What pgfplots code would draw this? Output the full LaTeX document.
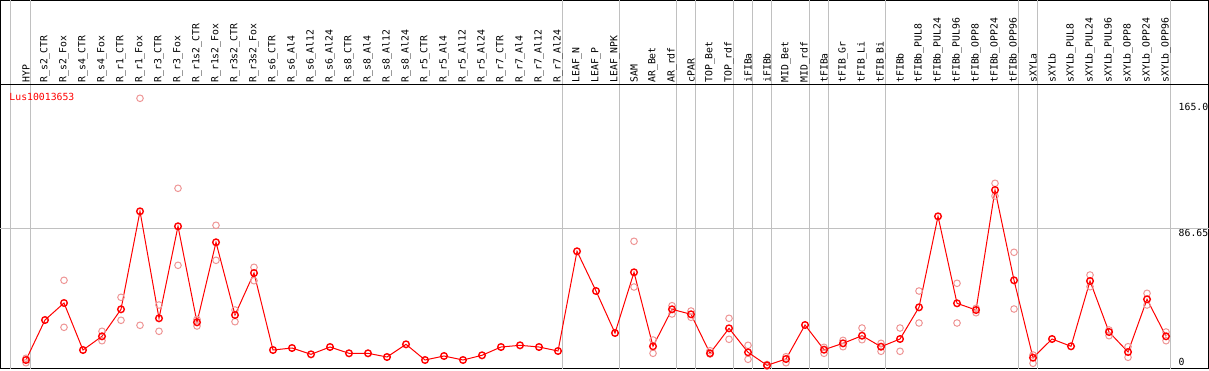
\documentclass[border=0pt]{standalone}
\usepackage{fontspec}
\setmainfont{DejaVu Sans Mono}
\usepackage{pgfplots}
\pgfplotsset{compat=1.18}
\definecolor{gridgray}{RGB}{192,192,192}
\definecolor{reppink}{RGB}{238,150,150}
\begin{document}
\fontsize{9.8pt}{10pt}\selectfont
\begin{tikzpicture}
% header box
\begin{axis}[
  at={(0.5pt,285pt)}, anchor=south west, scale only axis,
  width=1208pt, height=84.5pt,
  xmin=-0.342, xmax=63.237, ymin=0, ymax=1,
  xtick=\empty, ytick=\empty,
  extra x ticks={0.2,1.24,29.24,32.24,35.24,36.24,38.24,39.24,40.24,42.24,43.24,46.24,53.24,54.24,61.24},
  extra x tick labels={},
  extra x tick style={xmajorgrids=true, major tick length=0pt},
  major grid style={draw=gridgray, line width=1pt},
  axis line style={line width=1pt, black},
]
\addplot[draw=none] coordinates {(0,0.5)};
\end{axis}
% main axis
\begin{axis}[
  at={(0.5pt,1.3pt)}, anchor=south west, scale only axis,
  width=1208pt, height=283.7pt,
  xmin=-0.342, xmax=63.237, ymin=-0.62, ymax=175.81,
  axis line style={line width=1pt, black},
  major tick length=0pt,
  xtick={1,...,61},
  xticklabel pos=upper,
  xticklabels={HYP,R\_s2\_CTR,R\_s2\_Fox,R\_s4\_CTR,R\_s4\_Fox,R\_r1\_CTR,R\_r1\_Fox,R\_r3\_CTR,R\_r3\_Fox,R\_r1s2\_CTR,R\_r1s2\_Fox,R\_r3s2\_CTR,R\_r3s2\_Fox,R\_s6\_CTR,R\_s6\_Al4,R\_s6\_Al12,R\_s6\_Al24,R\_s8\_CTR,R\_s8\_Al4,R\_s8\_Al12,R\_s8\_Al24,R\_r5\_CTR,R\_r5\_Al4,R\_r5\_Al12,R\_r5\_Al24,R\_r7\_CTR,R\_r7\_Al4,R\_r7\_Al12,R\_r7\_Al24,LEAF\_N,LEAF\_P,LEAF\_NPK,SAM,AR\_Bet,AR\_rdf,cPAR,TOP\_Bet,TOP\_rdf,iFIBa,iFIBb,MID\_Bet,MID\_rdf,tFIBa,tFIB\_Gr,tFIB\_Li,tFIB\_Bi,tFIBb,tFIBb\_PUL8,tFIBb\_PUL24,tFIBb\_PUL96,tFIBb\_OPP8,tFIBb\_OPP24,tFIBb\_OPP96,sXYLa,sXYLb,sXYLb\_PUL8,sXYLb\_PUL24,sXYLb\_PUL96,sXYLb\_OPP8,sXYLb\_OPP24,sXYLb\_OPP96},
  xticklabel style={rotate=90, anchor=west, inner sep=2.2pt, font=\fontsize{9.8pt}{10pt}\selectfont},
  extra x ticks={0.2,1.24,29.24,32.24,35.24,36.24,38.24,39.24,40.24,42.24,43.24,46.24,53.24,54.24,61.24},
  extra x tick labels={},
  extra x tick style={xmajorgrids=true},
  ytick={6.47,86.65,165},
  yticklabels={0,86.65,165.0},
  yticklabel pos=right,
  yticklabel style={anchor=west, xshift=-30pt, yshift=-4.4pt, inner sep=0pt, fill=white, font=\fontsize{9.8pt}{10pt}\selectfont},
  /pgf/number format/assume math mode=true,
  extra y ticks={86.65},
  extra y tick labels={},
  extra y tick style={ymajorgrids=true},
  major grid style={draw=gridgray, line width=1pt},
  clip=false,
]
% replicate points
\addplot[only marks, mark=o, mark size=3.3pt, reppink, mark options={line width=1pt}] coordinates {
(1,3.11) (1,5.85)
(3,54.35) (3,25.12)
(5,22.64) (5,16.79)
(6,43.78) (6,29.48)
(7,167.54) (7,26.37)
(8,38.99) (8,22.64)
(9,111.57) (9,63.68)
(10,30.10) (10,25.93)
(11,88.56) (11,66.79)
(12,35.88) (12,28.61)
(13,62.44) (13,54.10)
(33,78.61) (33,50.19)
(34,17.23) (34,8.96)
(35,38.56) (35,33.40)
(36,35.26) (36,31.34)
(37,10.57) (37,8.52)
(38,30.72) (38,17.66)
(39,13.93) (39,5.22)
(40,1.0) (40,2.0)
(41,6.84) (41,3.11)
(43,8.96) (43,12.69)
(44,13.06) (44,17.0)
(45,24.69) (45,17.41)
(46,15.17) (46,10.20)
(47,24.69) (47,10.20)
(48,47.70) (48,27.80)
(50,52.49) (50,27.80)
(51,36.94) (51,34.20)
(52,114.68) (52,106.78)
(53,71.77) (53,36.50)
(54,7.90) (54,2.74)
(57,57.65) (57,50.37)
(58,23.45) (58,19.90)
(59,13.06) (59,6.47)
(60,46.27) (60,38.99)
(61,22.20) (61,16.79)
};
% mean
\addplot[red, line width=1pt, mark=o, mark size=3.3pt, mark options={line width=1.4pt}] coordinates {
(1,4.79) (2,29.66) (3,40.24) (4,11.0) (5,19.53) (6,36.32) (7,97.26) (8,30.72) (9,87.94) (10,28.23)
(11,77.99) (12,32.77) (13,58.89) (14,11.0) (15,12.25) (16,8.33) (17,12.87) (18,8.96) (19,8.96) (20,6.65)
(21,14.55) (22,4.79) (23,7.28) (24,4.79) (25,7.71) (26,12.87) (27,13.93) (28,12.87) (29,10.39) (30,72.39)
(31,47.70) (32,21.58) (33,59.33) (34,13.31) (35,36.32) (36,33.21) (37,8.96) (38,24.50) (39,9.58) (40,1.49)
(41,5.41) (42,26.56) (43,11.19) (44,15.17) (45,19.90) (46,13.06) (47,17.85) (48,37.56) (49,94.15) (50,40.05)
(51,35.88) (52,110.51) (53,54.35) (54,6.22) (55,17.85) (56,13.31) (57,53.92) (58,22.20) (59,9.76) (60,42.54)
(61,19.53)
};
\node[anchor=base west, inner sep=0pt, text=red, font=\fontsize{9.8pt}{10pt}\selectfont] at (axis cs:0.12,166) {Lus10013653};
\end{axis}
\pgfresetboundingbox
\path[use as bounding box] (0,0) rectangle (1209pt,370pt);
\end{tikzpicture}
\end{document}
